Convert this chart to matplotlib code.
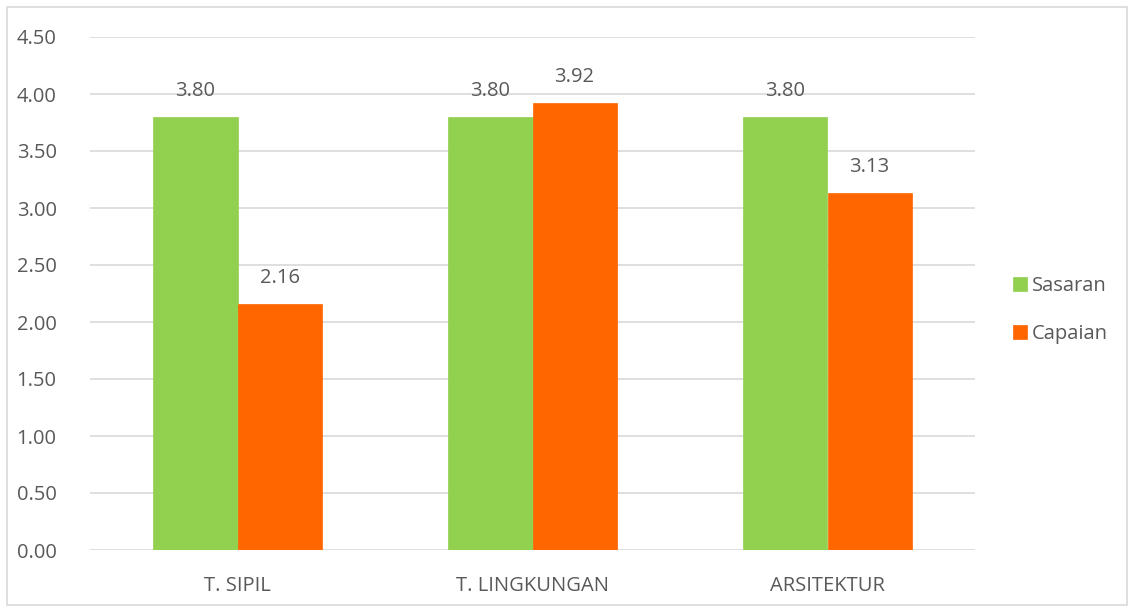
import numpy as np
import matplotlib.pyplot as plt
from matplotlib.patches import Rectangle

kategori = ['T. SIPIL', 'T. LINGKUNGAN', 'ARSITEKTUR']
sasaran = [3.80, 3.80, 3.80]
capaian = [2.16, 3.92, 3.13]
y_ticks = [0.0, 0.5, 1.0, 1.5, 2.0, 2.5, 3.0, 3.5, 4.0, 4.5]

plt.rcParams['font.family'] = ['Open Sans', 'DejaVu Sans']
teks = '#595959'
fs = 14.5

fig = plt.figure(figsize=(11.33, 6.08), dpi=100)
ax = fig.add_axes([90 / 1133, 1 - 550 / 608, 885 / 1133, 513 / 608])

x = np.arange(len(kategori))
lebar = 0.285
b1 = ax.bar(x - lebar / 2, sasaran, lebar, color='#92D050', edgecolor='#92D050',
            linewidth=0.5, label='Sasaran', zorder=3)
b2 = ax.bar(x + lebar / 2, capaian, lebar, color='#FF6600', edgecolor='#FF6600',
            linewidth=0.5, label='Capaian', zorder=3)

for bars in (b1, b2):
    for b in bars:
        ax.annotate(f'{b.get_height():.2f}', (b.get_x() + b.get_width() / 2, b.get_height()),
                    xytext=(0, 18.5), textcoords='offset points', ha='center', va='center',
                    fontsize=fs, color=teks)

ax.set_xlim(-0.5, 2.5)
ax.set_ylim(0, 4.5)
ax.set_yticks(y_ticks)
ax.set_yticklabels([f'{v:.2f}' for v in y_ticks])
ax.set_xticks(x)
ax.set_xticklabels(kategori)
ax.grid(axis='y', color='#D9D9D9', linewidth=1.2, zorder=0)
for s in ax.spines.values():
    s.set_visible(False)
ax.tick_params(length=0, labelsize=fs, labelcolor=teks)
ax.tick_params(axis='y', pad=24)
ax.tick_params(axis='x', pad=19)

ax.legend(loc='center left', bbox_to_anchor=(1.022, 0.468), frameon=False,
          fontsize=fs, labelcolor=teks, handlelength=0.7, handleheight=0.7,
          handletextpad=0.25, labelspacing=1.4)

fig.patches.append(Rectangle((7 / 1133, 3 / 608), 1120 / 1133, 598 / 608,
                             transform=fig.transFigure, fill=False,
                             edgecolor='#D9D9D9', linewidth=1.2))

fig.savefig('out.png', dpi=100)
